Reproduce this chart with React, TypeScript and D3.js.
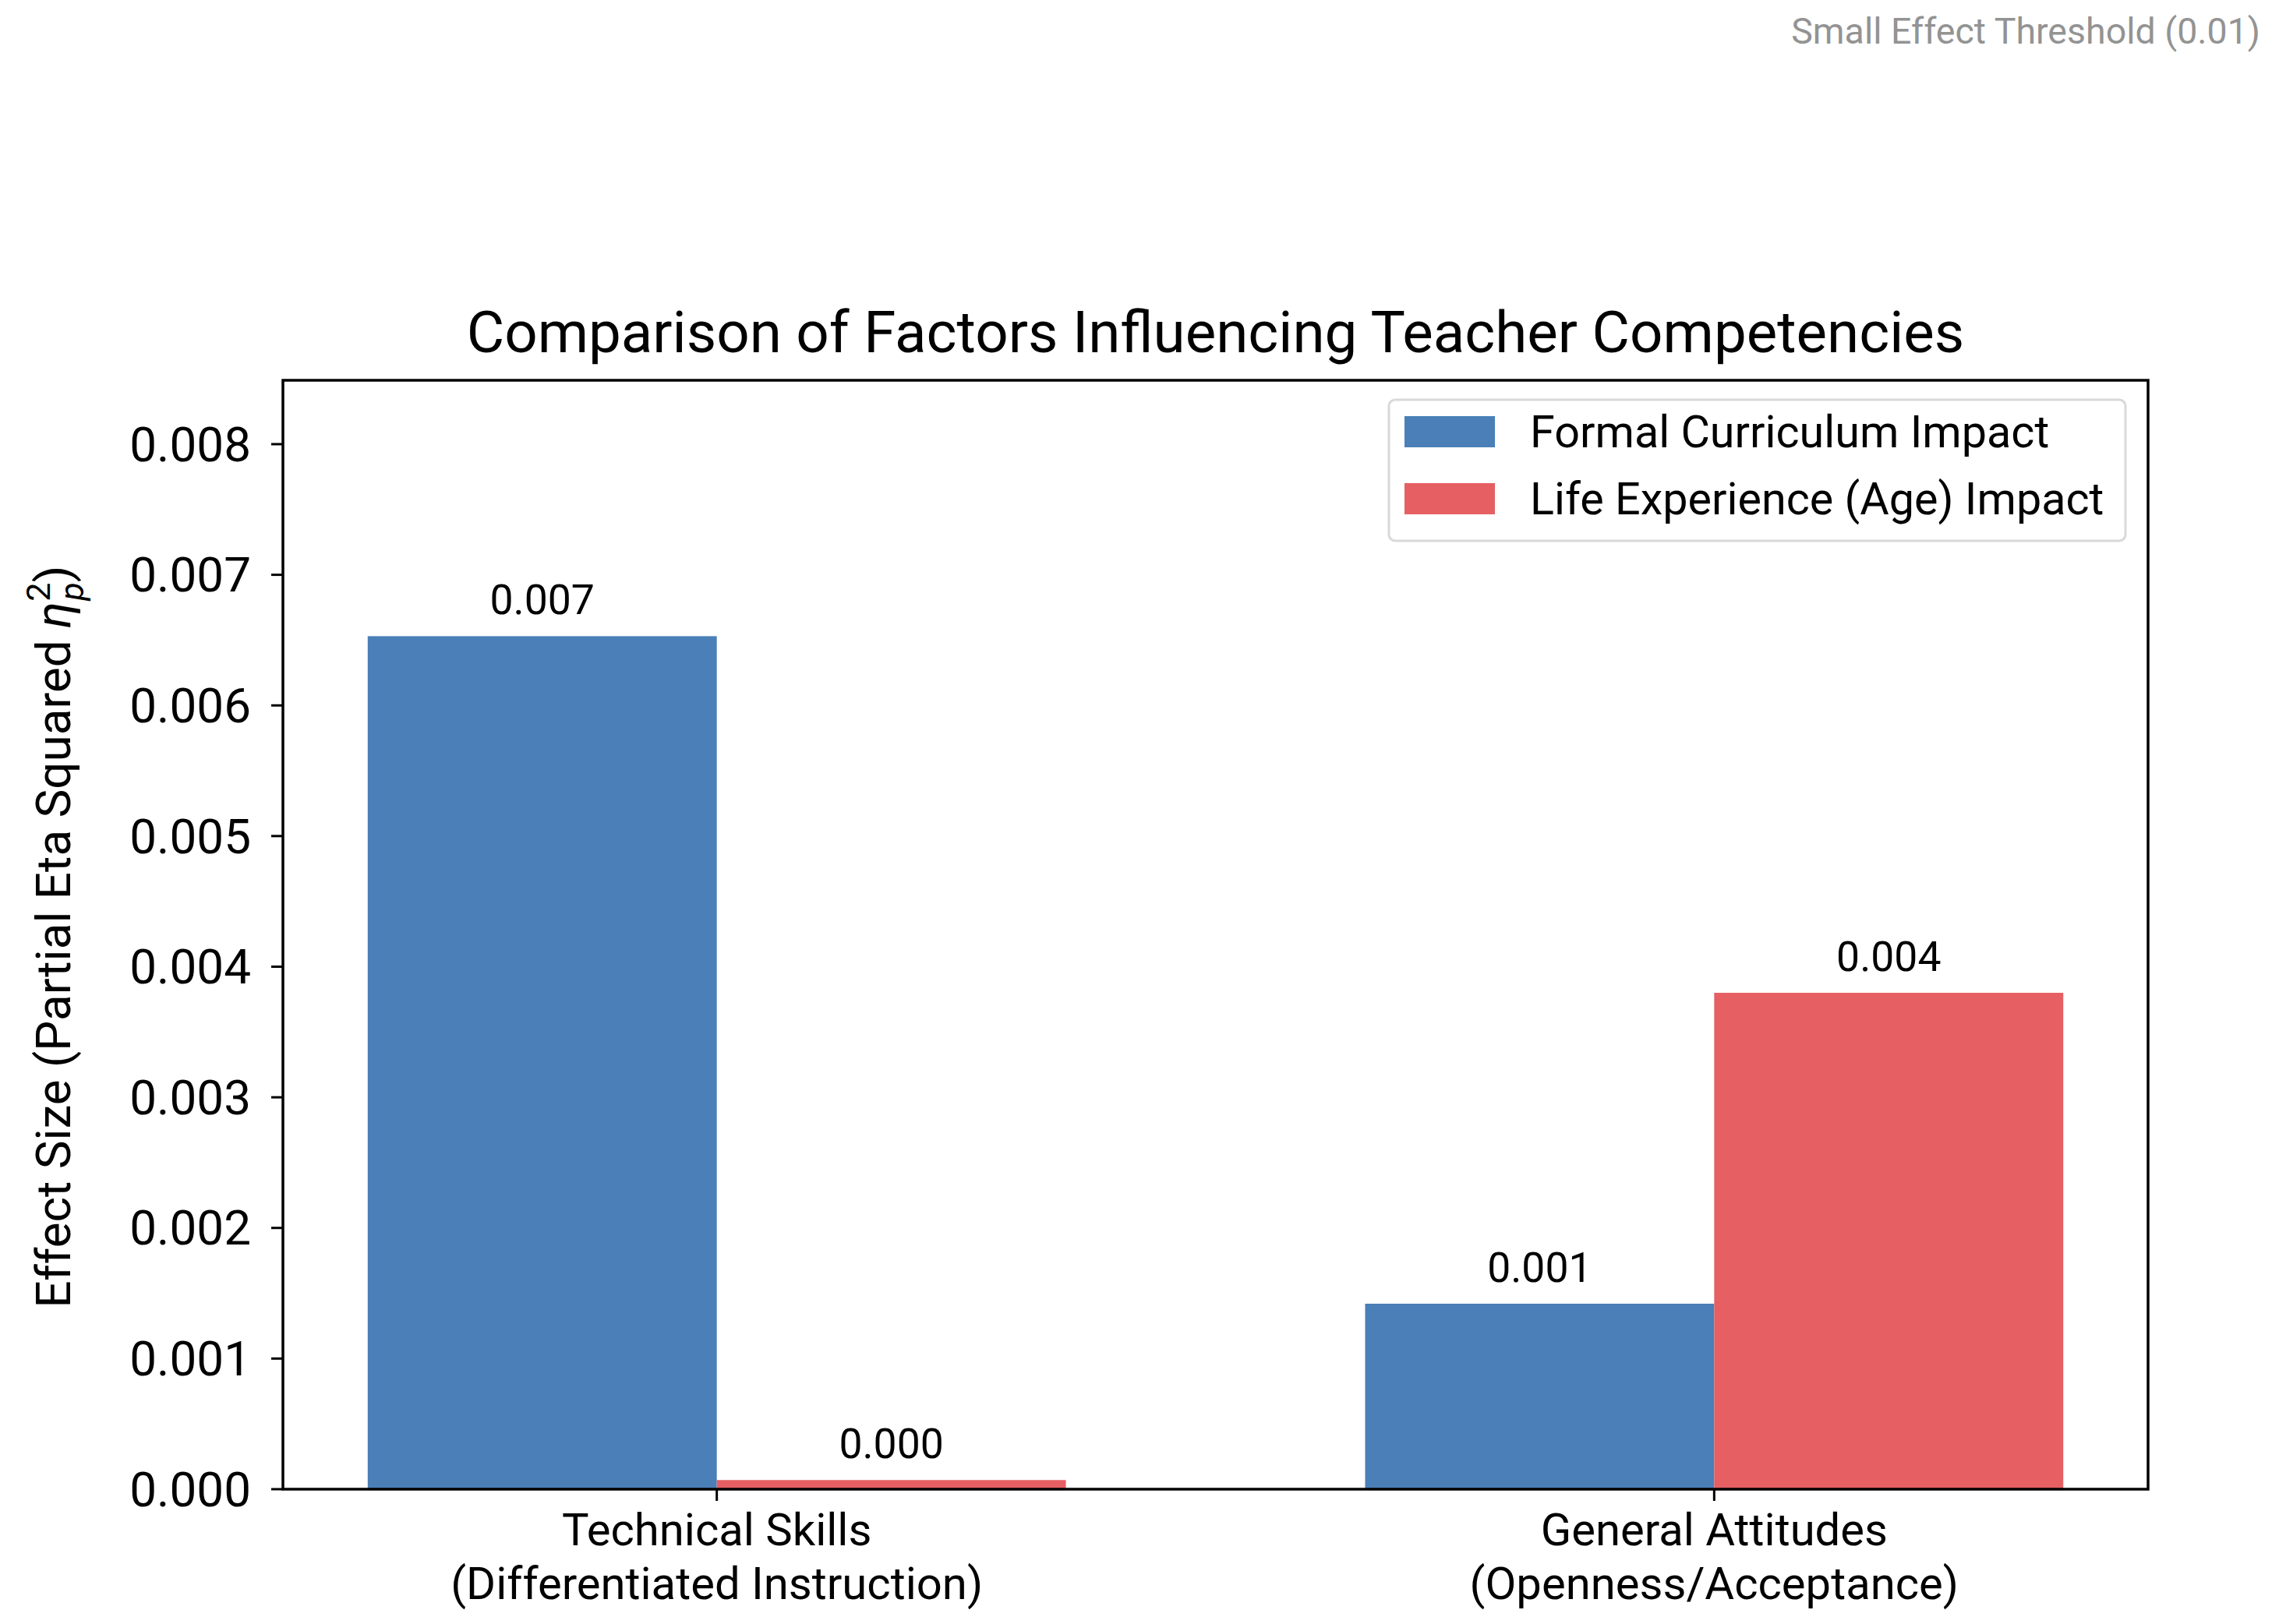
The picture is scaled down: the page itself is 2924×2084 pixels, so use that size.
import React from "react";
import * as d3 from "d3";

const categories: string[][] = [
  ["Technical Skills", "(Differentiated Instruction)"],
  ["General Attitudes", "(Openness/Acceptance)"],
];
const seriesNames = ["Formal Curriculum Impact", "Life Experience (Age) Impact"];
const formalValues = [0.00653, 0.00142];
const lifeValues = [0.00007, 0.0038];
const yTickValues = [0, 0.001, 0.002, 0.003, 0.004, 0.005, 0.006, 0.007, 0.008];
const colors = ["#4a7fb8", "#e55f63"];

const W = 2924;
const H = 2084;
const FONT = "Roboto, 'Open Sans', sans-serif";

export default function App() {
  const left = 363, right = 2756, top = 488, bottom = 1911;
  const barW = 0.35;
  const xIdx = categories.map((_, i) => i);
  const x = d3.scaleLinear().domain([-0.435, 1.435]).range([left, right]);
  const yMax = Math.max(...formalValues, ...lifeValues) * 1.3;
  const y = d3.scaleLinear().domain([0, yMax]).range([bottom, top]);
  const series = [formalValues, lifeValues];
  const fmt = d3.format(".3f");

  return (
    <svg width={W} height={H} style={{ position: "absolute", left: 0, top: 0, background: "#fff" }} fontFamily={FONT}>
      <rect x={0} y={0} width={W} height={H} fill="#fff" />
      <text x={2900} y={56} fontSize={46.5} fill="#939393" textAnchor="end">Small Effect Threshold (0.01)</text>
      <text x={(left + right) / 2} y={452} fontSize={74.5} textAnchor="middle" fill="#000">
        Comparison of Factors Influencing Teacher Competencies
      </text>
      {series.map((vals, s) =>
        vals.map((v, i) => {
          const x0 = x(xIdx[i] + (s === 0 ? -barW : 0));
          const x1 = x(xIdx[i] + (s === 0 ? 0 : barW));
          return (
            <g key={`${s}-${i}`}>
              <rect x={x0} y={y(v)} width={x1 - x0} height={y(0) - y(v)} fill={colors[s]} />
              <text x={(x0 + x1) / 2} y={y(v) - 28} fontSize={53.5} textAnchor="middle" fill="#000">{fmt(v)}</text>
            </g>
          );
        })
      )}
      <rect x={left} y={top} width={right - left} height={bottom - top} fill="none" stroke="#000" strokeWidth={3.5} />
      {yTickValues.map((t) => (
        <g key={t}>
          <line x1={left - 15} x2={left} y1={y(t)} y2={y(t)} stroke="#000" strokeWidth={3} />
          <text x={322} y={y(t)} dy="0.35em" fontSize={62} textAnchor="end" fill="#000">{fmt(t)}</text>
        </g>
      ))}
      {xIdx.map((i) => (
        <g key={i}>
          <line x1={x(i)} x2={x(i)} y1={bottom} y2={bottom + 15} stroke="#000" strokeWidth={3} />
          <text x={x(i)} y={1983} fontSize={58} textAnchor="middle" fill="#000">{categories[i][0]}</text>
          <text x={x(i)} y={2052} fontSize={58} textAnchor="middle" fill="#000">{categories[i][1]}</text>
        </g>
      ))}
      <text transform={`translate(90,1202) rotate(-90)`} fontSize={62} textAnchor="middle" fill="#000">
        Effect Size (Partial Eta Squared <tspan fontStyle="italic">η</tspan>
        <tspan fontSize={43} dy={-26}>2</tspan>
        <tspan fontSize={43} fontStyle="italic" dx={-23} dy={43}>p</tspan>
        <tspan dy={-17}>)</tspan>
      </text>
      <rect x={1782} y={513} width={945} height={181} rx={8} fill="#fff" fillOpacity={0.8} stroke="#d9d9d9" strokeWidth={3} />
      {seriesNames.map((n, s) => (
        <g key={n}>
          <rect x={1802} y={534 + s * 86} width={116} height={40} fill={colors[s]} />
          <text x={1963} y={554 + s * 86} dy="0.35em" fontSize={57.5} fill="#000">{n}</text>
        </g>
      ))}
    </svg>
  );
}
